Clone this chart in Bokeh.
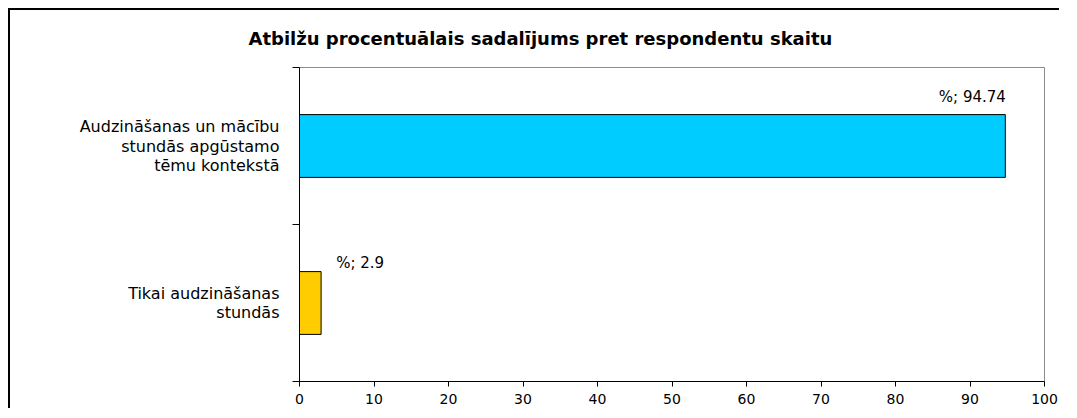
from bokeh.plotting import figure
from bokeh.models import Label, FixedTicker, Range1d, ColumnDataSource
from bokeh.embed import file_html
from bokeh.resources import INLINE

# ---- data ----
title_text = "Atbilžu procentuālais sadalījums pret respondentu skaitu"
categories = [
    "Audzināšanas un mācību\nstundās apgūstamo\ntēmu kontekstā",
    "Tikai audzināšanas\nstundās",
]
values = [94.74, 2.9]
value_labels = ["%; 94.74", "%; 2.9"]
x_ticks = [0, 10, 20, 30, 40, 50, 60, 70, 80, 90, 100]

# ---- styles ----
bar_colors = ["#00CCFF", "#FFCC00"]
val_label_offsets = [(-33, 49), (39, 40)]  # px (x, y-up)
FONT = "DejaVu Sans"

n = len(categories)
pos = [n - i - 0.5 for i in range(n)]
boundaries = list(range(n + 1))

src = ColumnDataSource(dict(pos=pos, value=values, color=bar_colors))

p = figure(
    width=1051, height=400,
    x_range=Range1d(x_ticks[0], x_ticks[-1]), y_range=Range1d(0, n),
    output_backend="svg", toolbar_location=None,
    min_border_left=289, min_border_right=17,
    min_border_top=56, min_border_bottom=29,
)
p.styles = {"margin-left": "8px", "margin-top": "8px",
            "border-top": "2px solid black", "border-left": "2px solid black"}

p.title.text = title_text
p.title.align = "left"
p.title.offset = -51
p.title.vertical_align = "top"
p.title.text_font = FONT
p.title.text_font_style = "bold"
p.title.text_font_size = "18px"
p.title.text_color = "black"
p.title.standoff = 34

p.hbar(y="pos", left=0, right="value", height=0.4, fill_color="color",
       line_color="black", line_width=1, source=src)

p.grid.visible = False
p.outline_line_color = "#8c8c8c"
p.outline_line_width = 1
p.background_fill_color = "white"
p.border_fill_color = "white"

xa = p.xaxis[0]
xa.ticker = FixedTicker(ticks=x_ticks)
xa.axis_line_color = "black"
xa.axis_line_width = 1
xa.major_tick_line_color = "black"
xa.major_tick_out = 5
xa.major_tick_in = 0
xa.minor_tick_line_color = None
xa.major_label_standoff = 7
xa.major_label_text_font = FONT
xa.major_label_text_font_size = "14px"
xa.major_label_text_color = "black"

ya = p.yaxis[0]
ya.ticker = FixedTicker(ticks=pos, minor_ticks=boundaries)
ya.major_label_overrides = {y: c for y, c in zip(pos, categories)}
ya.axis_line_color = "black"
ya.axis_line_width = 1
ya.major_tick_line_color = None
ya.major_tick_out = 0
ya.major_tick_in = 0
ya.minor_tick_line_color = "black"
ya.minor_tick_out = 7
ya.minor_tick_in = 0
ya.major_label_standoff = 13
ya.major_label_text_font = FONT
ya.major_label_text_font_size = "16px"
ya.major_label_text_color = "black"
ya.major_label_text_line_height = 1.05

for v, y, txt, (dx, dy) in zip(values, pos, value_labels, val_label_offsets):
    p.add_layout(Label(x=v, y=y, x_units="data", y_units="data", text=txt,
                       x_offset=dx, y_offset=dy, text_align="center",
                       text_baseline="middle", text_font=FONT,
                       text_font_size="15px", text_color="black"))

open("out.html", "w").write(file_html(p, INLINE))
